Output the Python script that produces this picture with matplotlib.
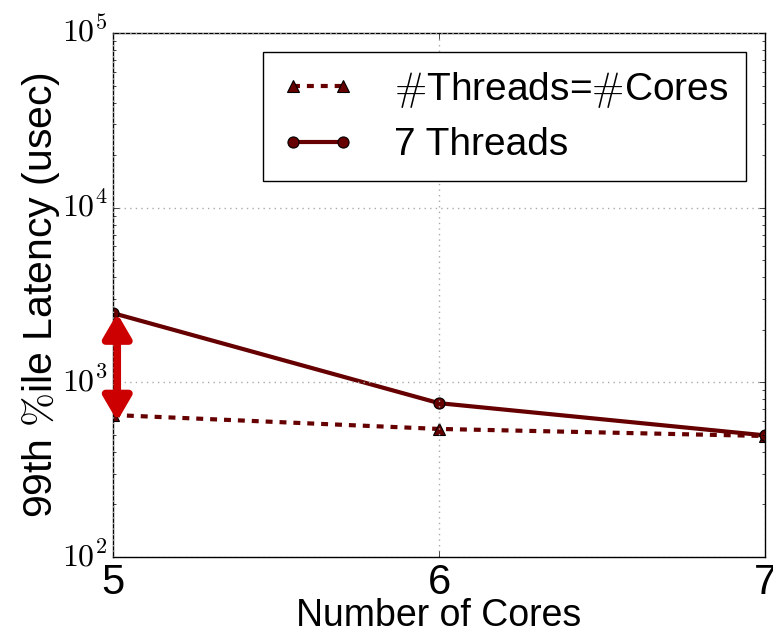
import matplotlib
matplotlib.use("Agg")
import matplotlib.pyplot as plt
from matplotlib.ticker import FixedLocator, FixedFormatter

plt.style.use('classic')
plt.rcParams['font.family'] = ['Liberation Sans', 'DejaVu Sans']
plt.rcParams['mathtext.fontset'] = 'cm'

cores = [5, 6, 7]
threads_eq_cores = [650, 541, 493]
seven_threads = [2490, 760, 497]
arrow_x = 5.013
arrow_low = 600
arrow_high = 2480
ytick_vals = [1e2, 1e3, 1e4, 1e5]
ytick_labels = [r'$10^{2}$', r'$10^{3}$', r'$10^{4}$', r'$10^{5}$']

color = '#660000'

fig = plt.figure(figsize=(7.73, 6.34), dpi=100)
fig.patch.set_facecolor('white')
ax = fig.add_axes([113/773, 1-557/634, (765-113)/773, (557-33)/634])

ax.plot(cores, threads_eq_cores, linestyle='--', color=color, linewidth=3,
        marker='^', markersize=8, markerfacecolor=color, markeredgecolor='black',
        markeredgewidth=0.8, label=r'$\#$Threads=$\#$Cores', dashes=(5, 5))
ax.plot(cores, seven_threads, linestyle='-', color=color, linewidth=3,
        marker='o', markersize=8, markerfacecolor=color, markeredgecolor='black',
        markeredgewidth=0.8, label='7 Threads')

ax.annotate('', xy=(arrow_x, arrow_low), xytext=(arrow_x, arrow_high),
            arrowprops=dict(arrowstyle='<|-|>,head_length=0.72,head_width=0.42',
                            mutation_scale=20,
                            color='#cc0000', lw=5.5, shrinkA=0, shrinkB=0),
            zorder=5)

ax.set_yscale('log')
ax.set_ylim(1e2, 1e5)
ax.yaxis.set_major_locator(FixedLocator(ytick_vals))
ax.yaxis.set_major_formatter(FixedFormatter(ytick_labels))
ax.set_xlim(5, 7)
ax.set_xticks(cores)
ax.set_xticklabels([str(c) for c in cores], fontsize=30)
ax.tick_params(axis='y', labelsize=23)
ax.tick_params(axis='x', pad=4)
ax.grid(True, which='major', linestyle=':', color='#aaaaaa', linewidth=1)

ax.set_xlabel('Number of Cores', fontsize=27, labelpad=-3)
ax.set_ylabel(r'99th $\%$ile Latency (usec)', fontsize=29.5, labelpad=0)

leg = ax.legend(loc='upper right', fontsize=28, numpoints=2, fancybox=False,
                handlelength=1.9, borderpad=0.45, labelspacing=0.45, handletextpad=1.0,
                borderaxespad=0.5)
leg.get_frame().set_edgecolor('black')

fig.savefig('out.png', dpi=100, facecolor='white')
